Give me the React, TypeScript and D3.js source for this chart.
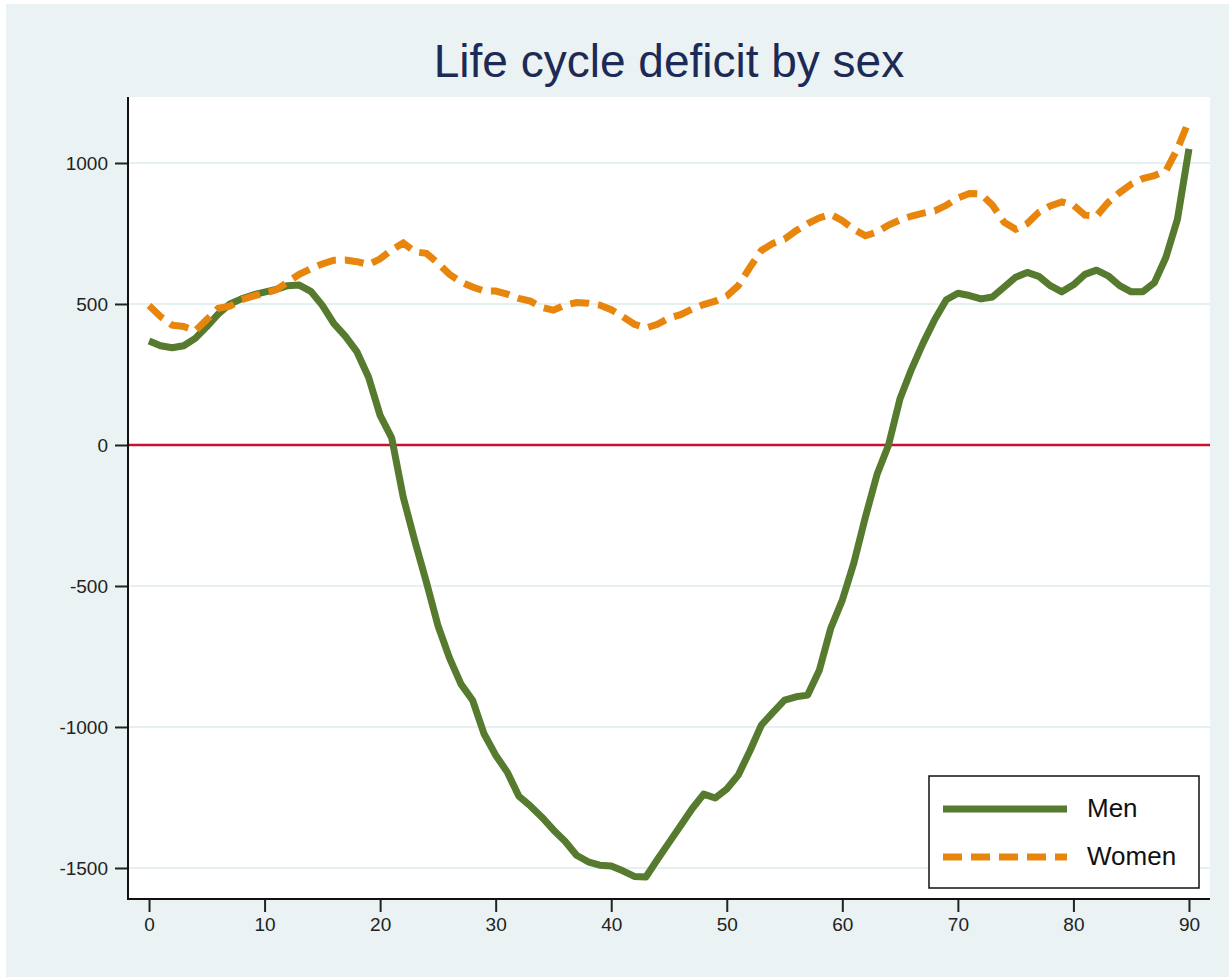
import React, { useEffect, useRef } from "react";
import * as d3 from "d3";

// ages 0..90
const ages = d3.range(0, 91);

const men = [
  369, 352, 345, 352, 378, 420, 465, 500, 518, 532,
  542, 552, 565, 567, 545, 495, 430, 385, 330, 240,
  105, 25, -185, -340, -486, -640, -755, -848, -905, -1025,
  -1100, -1160, -1245, -1280, -1320, -1365, -1405, -1455, -1478, -1490,
  -1493, -1510, -1530, -1532, -1470, -1410, -1350, -1290, -1238, -1252,
  -1220, -1170, -1085, -993, -948, -905, -893, -887, -800, -650,
  -550, -418, -255, -105, 0, 165, 270, 362, 445, 515,
  538, 530, 518, 525, 560, 595, 612, 598, 565, 543,
  568, 605, 620, 600, 565, 543, 543, 575, 665, 800,
  1050,
];

const women = [
  495, 455, 425, 420, 405, 445, 485, 492, 515, 528,
  538, 550, 578, 605, 625, 642, 655, 656, 650, 640,
  660, 692, 716, 685, 680, 645, 605, 578, 560, 546,
  546, 535, 520, 510, 488, 478, 496, 505, 503, 496,
  480, 455, 428, 415, 428, 450, 462, 482, 498, 510,
  528, 565, 630, 690, 715, 730, 760, 785, 805, 818,
  795, 765, 742, 755, 780, 798, 812, 822, 830, 850,
  876, 892, 890, 850, 790, 765, 785, 825, 848, 862,
  850, 815, 812, 860, 895, 925, 945, 955, 972, 1050,
  1150,
];

const yTicks = [-1500, -1000, -500, 0, 500, 1000];
const xTicks = [0, 10, 20, 30, 40, 50, 60, 70, 80, 90];
const seriesNames = ["Men", "Women"];

const W = 1229;
const H = 977;
const FONT = "'Liberation Sans', Arial, sans-serif";

const App = () => {
  const ref = useRef<SVGSVGElement>(null);

  useEffect(() => {
    const svg = d3.select(ref.current);
    svg.selectAll("*").remove();

    const left = 128, right = 1210, top = 97, bottom = 899;

    // outer background
    svg.append("rect")
      .attr("x", 6).attr("y", 4)
      .attr("width", W - 6).attr("height", H - 4)
      .attr("fill", "#eaf2f3");

    // plot region
    svg.append("rect")
      .attr("x", left).attr("y", top)
      .attr("width", right - left).attr("height", bottom - top)
      .attr("fill", "#ffffff");

    const x = d3.scaleLinear().domain([-1.82, 91.82]).range([left, right]);
    const y = d3.scaleLinear().domain([-1610, 1234]).range([bottom, top]);

    // gridlines
    svg.append("g")
      .selectAll("line")
      .data(yTicks.filter(d => d !== 0))
      .enter()
      .append("line")
      .attr("x1", left).attr("x2", right)
      .attr("y1", d => y(d)).attr("y2", d => y(d))
      .attr("stroke", "#e6f0f0")
      .attr("stroke-width", 2);

    // zero line
    svg.append("line")
      .attr("x1", left).attr("x2", right)
      .attr("y1", y(0)).attr("y2", y(0))
      .attr("stroke", "#c8102e")
      .attr("stroke-width", 2.5);

    // y axis
    const yAxis = svg.append("g")
      .attr("transform", `translate(${left},0)`)
      .call(d3.axisLeft(y).tickValues(yTicks).tickSize(13).tickPadding(7).tickFormat(d => String(d)));
    yAxis.select(".domain").remove();
    yAxis.selectAll(".tick line").attr("stroke", "#222").attr("stroke-width", 2);
    yAxis.selectAll(".tick text")
      .attr("font-family", FONT).attr("font-size", 19).attr("fill", "#222");

    // x axis
    const xAxis = svg.append("g")
      .attr("transform", `translate(0,${bottom})`)
      .call(d3.axisBottom(x).tickValues(xTicks).tickSize(13).tickPadding(6).tickFormat(d => String(d)));
    xAxis.select(".domain").remove();
    xAxis.selectAll(".tick line").attr("stroke", "#222").attr("stroke-width", 2);
    xAxis.selectAll(".tick text")
      .attr("font-family", FONT).attr("font-size", 19).attr("fill", "#222");

    // axis lines
    svg.append("line")
      .attr("x1", left).attr("x2", left).attr("y1", top).attr("y2", bottom + 1)
      .attr("stroke", "#111").attr("stroke-width", 2);
    svg.append("line")
      .attr("x1", left - 1).attr("x2", right).attr("y1", bottom).attr("y2", bottom)
      .attr("stroke", "#111").attr("stroke-width", 2);

    const line = d3.line<number>()
      .x((d, i) => x(ages[i]))
      .y(d => y(d));

    svg.append("path")
      .datum(men)
      .attr("d", line)
      .attr("fill", "none")
      .attr("stroke", "#567a2e")
      .attr("stroke-width", 7)
      .attr("stroke-linejoin", "round");

    svg.append("path")
      .datum(women)
      .attr("d", line)
      .attr("fill", "none")
      .attr("stroke", "#e8850c")
      .attr("stroke-width", 7)
      .attr("stroke-dasharray", "19 9");

    // title
    svg.append("text")
      .attr("x", (left + right) / 2).attr("y", 77)
      .attr("text-anchor", "middle")
      .attr("font-family", FONT).attr("font-size", 46)
      .attr("fill", "#1c2a55")
      .text("Life cycle deficit by sex");

    // legend
    const lg = svg.append("g");
    lg.append("rect")
      .attr("x", 929).attr("y", 776)
      .attr("width", 270).attr("height", 112)
      .attr("fill", "#fff").attr("stroke", "#111").attr("stroke-width", 1.5);
    const styles = [
      { color: "#567a2e", dash: null },
      { color: "#e8850c", dash: "19 9" },
    ];
    seriesNames.forEach((name, i) => {
      const ly = 809 + i * 48;
      lg.append("line")
        .attr("x1", 943).attr("x2", 1067).attr("y1", ly).attr("y2", ly)
        .attr("stroke", styles[i].color).attr("stroke-width", 7)
        .attr("stroke-dasharray", styles[i].dash);
      lg.append("text")
        .attr("x", 1087).attr("y", ly + 8)
        .attr("font-family", FONT).attr("font-size", 26).attr("fill", "#111")
        .text(name);
    });
  }, []);

  return (
    <svg
      ref={ref}
      width={W}
      height={H}
      style={{ position: "absolute", left: 0, top: 0, display: "block" }}
    />
  );
};

export default App;
